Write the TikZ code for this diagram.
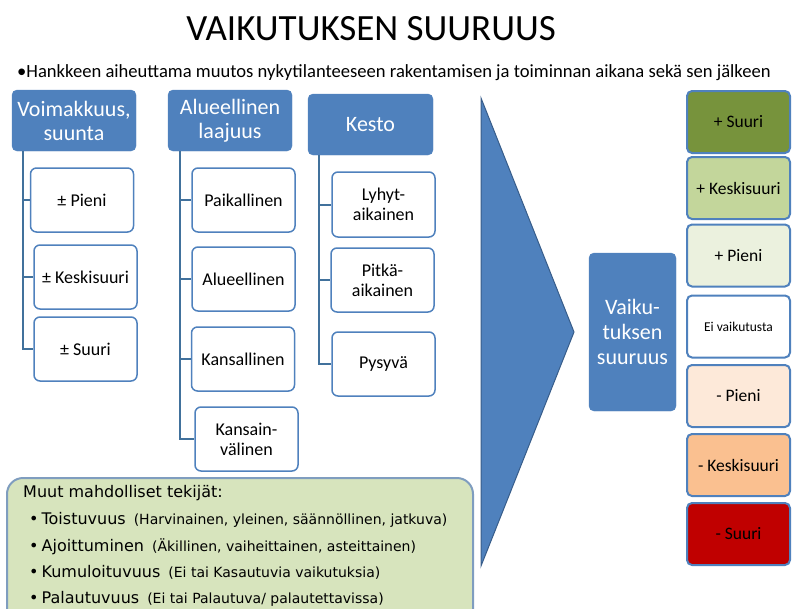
\documentclass[tikz,border=0pt]{standalone}
\usepackage{fontspec}
\setmainfont{Carlito}
\newfontfamily\verdfont{DejaVu Sans}
\usepackage{tikz}

\definecolor{hblue}{HTML}{4F81BD}
\definecolor{lblue}{HTML}{41719C}
\definecolor{cbord}{HTML}{385D8A}
\definecolor{mgreen}{HTML}{D7E4BD}
\definecolor{mbord}{HTML}{7F9DBF}
\definecolor{lvA}{HTML}{77933C}
\definecolor{lvB}{HTML}{C3D69B}
\definecolor{lvC}{HTML}{EBF1DE}
\definecolor{lvE}{HTML}{FDE9D9}
\definecolor{lvF}{HTML}{FAC090}
\definecolor{lvG}{HTML}{C00000}

\begin{document}
\begin{tikzpicture}[x=1pt,y=-1pt,
  head/.style={draw=hblue,fill=hblue,rounded corners=5pt,text=white,
    font=\fontsize{22}{24}\selectfont,align=center,inner sep=0pt,
    minimum width=124pt,minimum height=61pt},
  item/.style={draw=hblue,line width=1.5pt,fill=white,rounded corners=6pt,
    font=\fontsize{18}{20}\selectfont,align=center,inner sep=0pt,
    minimum width=103pt,minimum height=64pt},
  level/.style={draw=hblue,line width=2pt,rounded corners=5pt,
    font=\fontsize{17.5}{20}\selectfont,inner sep=0pt,
    minimum width=103pt,minimum height=62pt},
  tree/.style={draw=lblue,line width=2pt},
  every node/.style={}]

  \clip (0,0) rectangle (795,608);

  % title
  \node[anchor=base] (title) at (371,40) {\fontsize{37}{40}\selectfont VAIKUTUKSEN SUURUUS};
  \node[anchor=base west,inner sep=0pt] (intro) at (17,77)
    {\fontsize{18.6}{20}\selectfont •Hankkeen aiheuttama muutos nykytilanteeseen rakentamisen ja toiminnan aikana sekä sen jälkeen};

  % voimakkuus
  \node[head] (hv) at (74,120.5) {Voimakkuus,\\suunta};
  \node[item] (v1) at (82,200) {± Pieni};
  \node[item] (v2) at (85.5,277) {± Keskisuuri};
  \node[item] (v3) at (85.5,349) {± Suuri};
  \coordinate (tv) at ([xshift=11pt]hv.south west);
  \draw[tree] (tv) |- (v1.west);
  \draw[tree] (tv) |- (v2.west);
  \draw[tree] (tv) |- (v3.west);

  % alueellinen laajuus
  \node[head] (ha) at (230,120.5) {Alueellinen\\laajuus};
  \node[item] (a1) at (243.5,200) {Paikallinen};
  \node[item] (a2) at (243.5,279) {Alueellinen};
  \node[item] (a3) at (243,359) {Kansallinen};
  \node[item] (a4) at (246.5,439) {Kansain-\\välinen};
  \coordinate (ta) at ([xshift=12pt]ha.south west);
  \draw[tree] (ta) |- (a1.west);
  \draw[tree] (ta) |- (a2.west);
  \draw[tree] (ta) |- (a3.west);
  \draw[tree] (ta) |- (a4.west);

  % kesto
  \node[head,minimum width=125pt] (hk) at (370.5,124.5) {Kesto};
  \node[item,minimum height=65pt] (k1) at (383.5,204.5) {Lyhyt-\\aikainen};
  \node[item] (k2) at (382.5,280) {Pitkä-\\aikainen};
  \node[item] (k3) at (383.5,364) {Pysyvä};
  \coordinate (tk) at ([xshift=11pt]hk.south west);
  \draw[tree] (tk) |- (k1.west);
  \draw[tree] (tk) |- (k2.west);
  \draw[tree] (tk) |- (k3.west);

  % arrow
  \fill[hblue,draw=cbord,line width=1pt] (481,98) -- (574,332) -- (481,566) -- cycle;

  % result
  \node[head,minimum width=87pt,minimum height=158pt,
    font=\fontsize{22}{25}\selectfont] (vs) at (632.5,332) {Vaiku-\\tuksen\\suuruus};

  % levels
  \node[level,fill=lvA] (l1) at (738.5,122) {+ Suuri};
  \node[level,fill=lvB] (l2) at (738.5,188) {+ Keskisuuri};
  \node[level,fill=lvC] (l3) at (738.5,255.5) {+ Pieni};
  \node[level,fill=white,font=\fontsize{13.5}{15}\selectfont] (l4) at (738.5,326.5) {Ei vaikutusta};
  \node[level,fill=lvE] (l5) at (738.5,396) {- Pieni};
  \node[level,fill=lvF] (l6) at (738.5,465) {- Keskisuuri};
  \node[level,fill=lvG] (l7) at (738.5,534) {- Suuri};

  % other factors
  \draw[fill=mgreen,draw=mbord,line width=2pt,rounded corners=16pt] (7,478) rectangle (473,640);
  \begin{scope}[every node/.style={anchor=base west,inner sep=0pt,
      font=\verdfont\fontsize{16}{18}\selectfont}]
    \node (m0) at (23,497) {Muut mahdolliset tekijät:};
    \node (m1) at (29,524) {•\hspace{3pt}Toistuvuus\hspace{8pt}{\fontsize{14}{16}\selectfont(Harvinainen, yleinen, säännöllinen, jatkuva)}};
    \node (m2) at (29,551) {•\hspace{3pt}Ajoittuminen\hspace{8pt}{\fontsize{14}{16}\selectfont(Äkillinen, vaiheittainen, asteittainen)}};
    \node (m3) at (29,577) {•\hspace{3pt}Kumuloituvuus\hspace{8pt}{\fontsize{14}{16}\selectfont(Ei tai Kasautuvia vaikutuksia)}};
    \node (m4) at (29,603) {•\hspace{3pt}Palautuvuus\hspace{8pt}{\fontsize{14}{16}\selectfont(Ei tai Palautuva/ palautettavissa)}};
  \end{scope}

\end{tikzpicture}
\end{document}
